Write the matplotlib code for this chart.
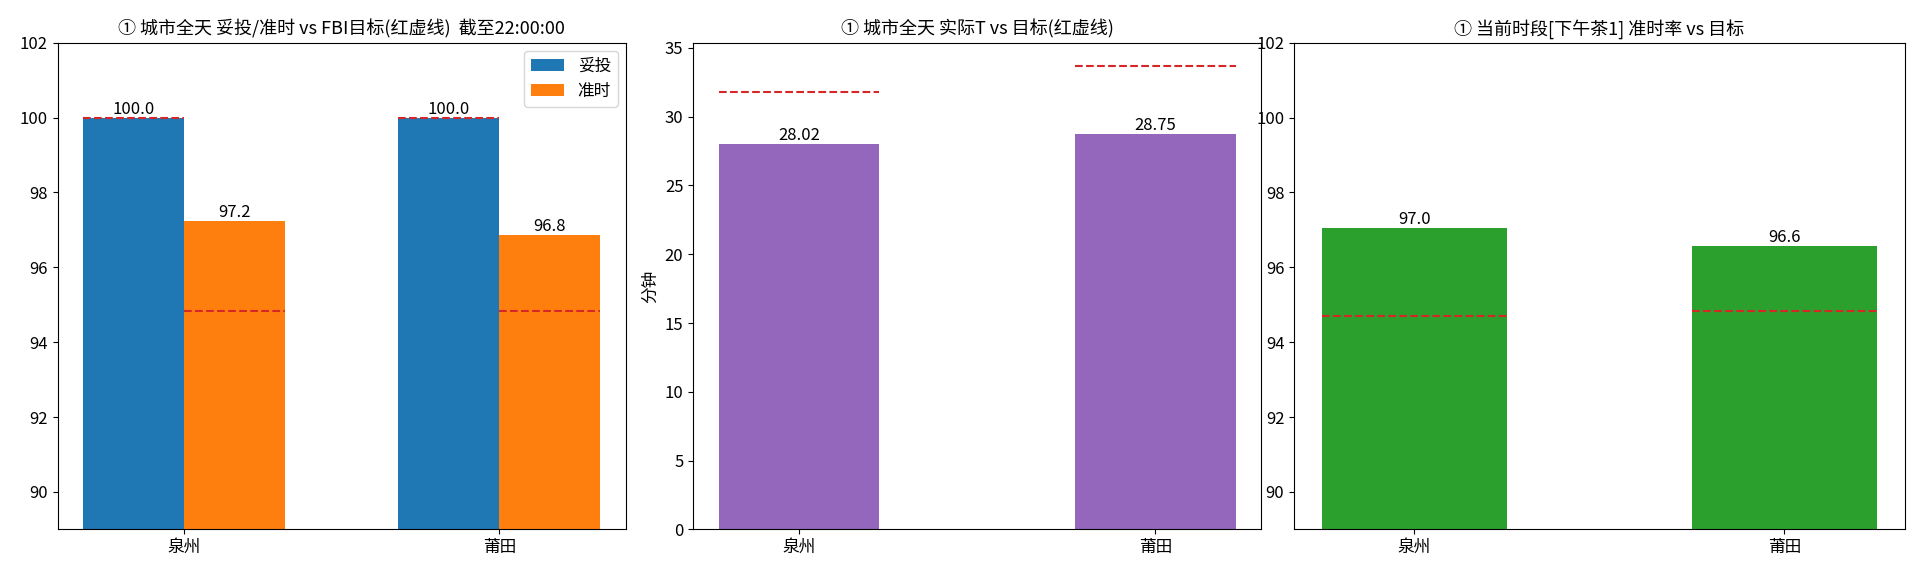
import numpy as np
from matplotlib import pyplot as plt

plt.rcParams['font.family'] = ['Noto Sans CJK SC', 'DejaVu Sans']
plt.rcParams['font.size'] = 12
plt.rcParams['axes.titlesize'] = 13
plt.rcParams['axes.unicode_minus'] = False

# 数据
cities = ['泉州', '莆田']
tuotou = [100.0, 100.0]
zhunshi = [97.23, 96.85]
tuotou_target = [100.0, 100.0]
zhunshi_target = [94.83, 94.83]

actual_t = [28.02, 28.75]
target_t = [31.8, 33.7]

slot_rate = [97.05, 96.57]
slot_target = [94.71, 94.82]

title1 = '① 城市全天 妥投/准时 vs FBI目标(红虚线)  截至22:00:00'
title2 = '① 城市全天 实际T vs 目标(红虚线)'
title3 = '① 当前时段[下午茶1] 准时率 vs 目标'

fig = plt.figure(figsize=(19.2, 5.76), dpi=100)
ax1 = fig.add_axes([0.030, 0.081, 0.296, 0.845])
ax2 = fig.add_axes([0.361, 0.081, 0.296, 0.845])
ax3 = fig.add_axes([0.674, 0.081, 0.318, 0.845])

x = np.arange(len(cities))

# 图1 妥投/准时
w = 0.32
b1 = ax1.bar(x - w/2, tuotou, w, color='tab:blue', label='妥投')
b2 = ax1.bar(x + w/2, zhunshi, w, color='tab:orange', label='准时')
for i in range(len(cities)):
    ax1.hlines(tuotou_target[i], x[i] - w, x[i], colors='tab:red', linestyles='--')
    ax1.hlines(zhunshi_target[i], x[i], x[i] + w, colors='tab:red', linestyles='--')
for bars, vals in ((b1, tuotou), (b2, zhunshi)):
    for rect, v in zip(bars, vals):
        ax1.text(rect.get_x() + rect.get_width()/2, v, f'{v:.1f}', ha='center', va='bottom')
ax1.set_ylim(89, 102)
ax1.set_xticks(x)
ax1.set_xticklabels(cities)
ax1.set_title(title1)
ax1.legend(loc='upper right')

# 图2 实际T
w2 = 0.45
b3 = ax2.bar(x, actual_t, w2, color='tab:purple')
for i in range(len(cities)):
    ax2.hlines(target_t[i], x[i] - w2/2, x[i] + w2/2, colors='tab:red', linestyles='--')
for rect, v in zip(b3, actual_t):
    ax2.text(rect.get_x() + rect.get_width()/2, v, f'{v:.2f}', ha='center', va='bottom')
ax2.set_xticks(x)
ax2.set_xticklabels(cities)
ax2.set_ylabel('分钟')
ax2.set_title(title2)

# 图3 当前时段
w3 = 0.5
b4 = ax3.bar(x, slot_rate, w3, color='tab:green')
for i in range(len(cities)):
    ax3.hlines(slot_target[i], x[i] - w3/2, x[i] + w3/2, colors='tab:red', linestyles='--')
for rect, v in zip(b4, slot_rate):
    ax3.text(rect.get_x() + rect.get_width()/2, v, f'{v:.1f}', ha='center', va='bottom')
ax3.set_ylim(89, 102)
ax3.set_xticks(x)
ax3.set_xticklabels(cities)
ax3.set_title(title3)

fig.savefig('out.png')
